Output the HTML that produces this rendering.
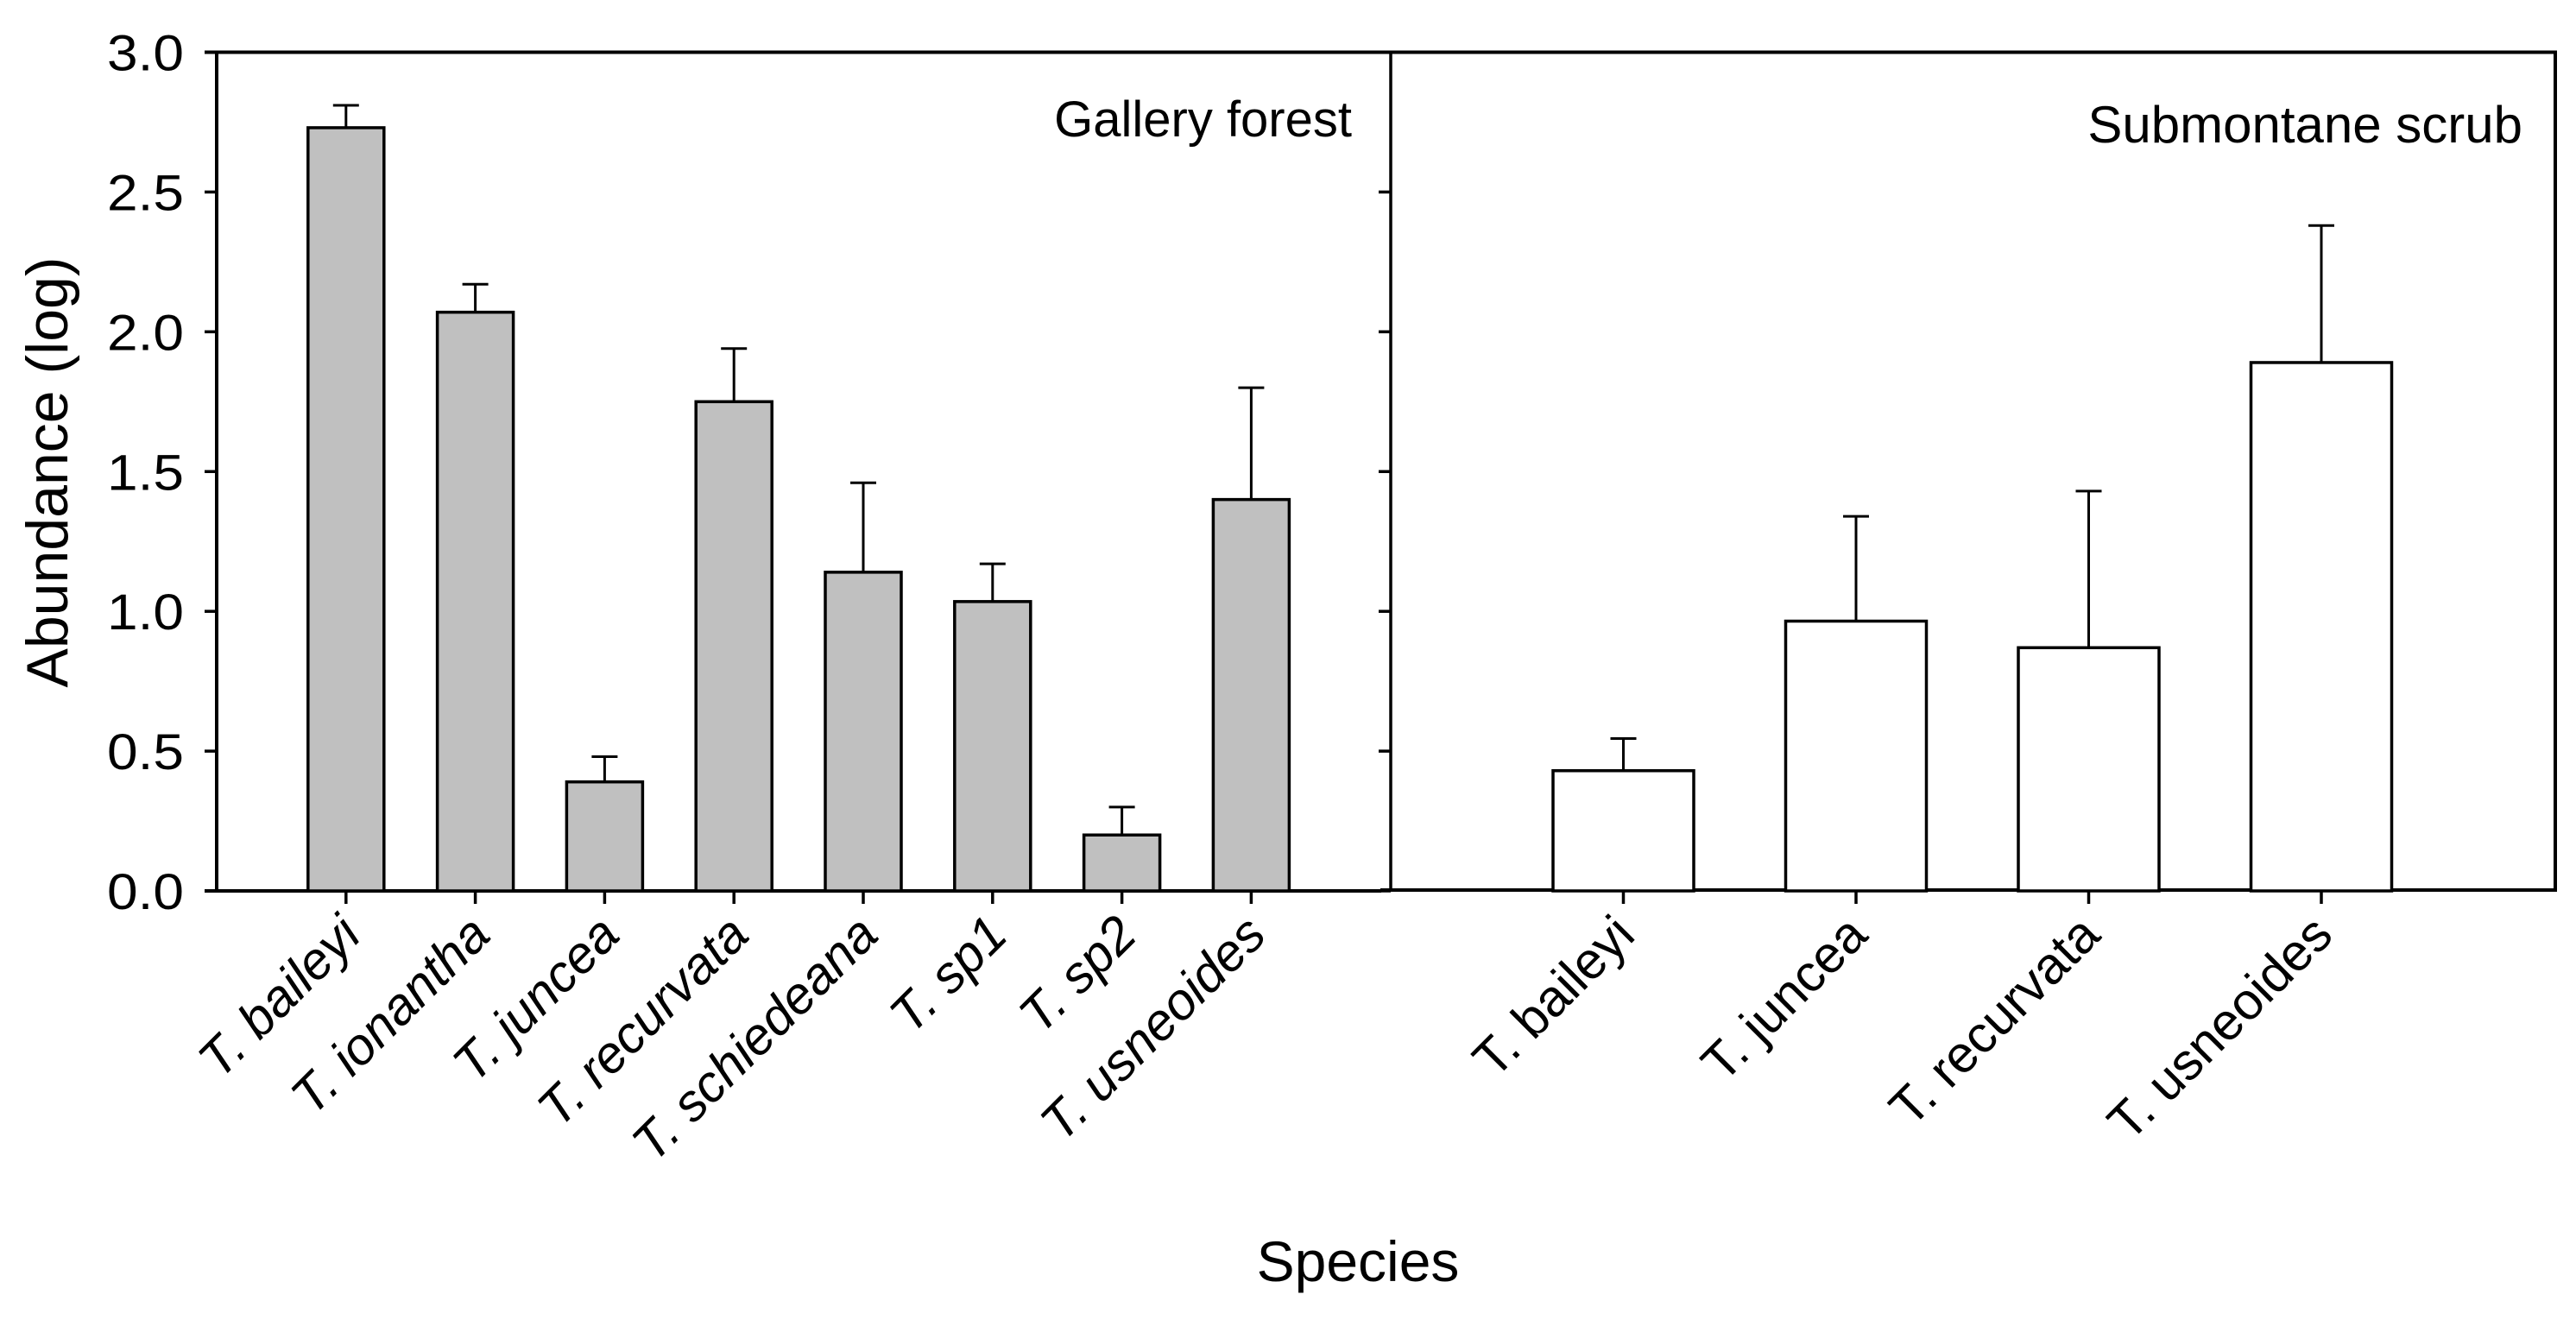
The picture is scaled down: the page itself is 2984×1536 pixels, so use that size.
<!DOCTYPE html>
<html><head><meta charset="utf-8"><style>
html,body{margin:0;padding:0;background:#fff;}
svg{display:block;font-family:"Liberation Sans",Arial,sans-serif;}
</style></head><body>
<svg id="chart" width="2984" height="1536" viewBox="0 0 2984 1536" xmlns="http://www.w3.org/2000/svg">
<g id="frame"></g><g id="marks"></g><g id="labels"></g>
</svg>
<script>
const leftCats = ["T. baileyi","T. ionantha","T. juncea","T. recurvata","T. schiedeana","T. sp1","T. sp2","T. usneoides"];
const leftVals = [2.73,2.07,0.39,1.75,1.14,1.035,0.20,1.40];
const leftErr = [0.08,0.10,0.09,0.19,0.32,0.135,0.10,0.40];
const rightCats = ["T. baileyi","T. juncea","T. recurvata","T. usneoides"];
const rightVals = [0.43,0.965,0.87,1.89];
const rightErr = [0.115,0.375,0.56,0.49];
const yTicks = [0,0.5,1,1.5,2,2.5,3];
const yTickLabels = ["0.0","0.5","1.0","1.5","2.0","2.5","3.0"];

const NS="http://www.w3.org/2000/svg";
const Y0=1032, YT=60.5, L=251, D=1611, R=2960;
function y(v){return Y0-(Y0-YT)*v/3;}
function xl(i){return L+149.8*(i+1);}
function xr(i){return D+269.5*(i+1);}
function mk(tag,attrs,parent){const e=document.createElementNS(NS,tag);for(const k in attrs)e.setAttribute(k,attrs[k]);document.getElementById(parent).appendChild(e);return e;}

let e;
e=mk('line',{x1:237,y1:YT,x2:R,y2:YT,stroke:'#000','stroke-width':4},'frame');


e=mk('line',{x1:L,y1:YT,x2:L,y2:Y0,stroke:'#000','stroke-width':4},'frame');


e=mk('line',{x1:237,y1:Y0,x2:1600,y2:Y0,stroke:'#000','stroke-width':4},'frame');


e=mk('line',{x1:D-12,y1:1031,x2:R+2,y2:1031,stroke:'#000','stroke-width':4},'frame');


e=mk('line',{x1:D,y1:YT,x2:D,y2:1031,stroke:'#000','stroke-width':3.5},'frame');


e=mk('line',{x1:R,y1:YT-2,x2:R,y2:1033,stroke:'#000','stroke-width':4},'frame');



yTicks.forEach((v,i)=>{
  let t=mk('line',{x1:L-14,y1:y(v),x2:L,y2:y(v),stroke:'#000','stroke-width':3.5},'frame');
  
  
  let t2=mk('line',{x1:D-14,y1:y(v),x2:D,y2:y(v),stroke:'#000','stroke-width':3.5},'frame');
  
  
  let lb=mk('text',{x:124,y:y(v)+21,'font-size':58},'labels');
  lb.textContent=yTickLabels[i];
  
  
  lb.setAttribute('textLength','89');
  lb.setAttribute('lengthAdjust','spacingAndGlyphs');
});

function drawBars(cats,vals,errs,xf,bw,fill,italic,panel,dx){
  cats.forEach((c,i)=>{
    const cx=xf(i);
    let er=mk('line',{x1:cx,y1:y(vals[i]),x2:cx,y2:y(vals[i]+errs[i]),stroke:'#000','stroke-width':3},'marks');
    
    
    let cap=mk('line',{x1:cx-15,y1:y(vals[i]+errs[i]),x2:cx+15,y2:y(vals[i]+errs[i]),stroke:'#000','stroke-width':3},'marks');
    
    
    let b=mk('rect',{x:cx-bw/2,y:y(vals[i]),width:bw,height:Y0-y(vals[i]),fill:fill,stroke:'#000','stroke-width':3.5},'marks');
    
    
    let t=mk('line',{x1:cx,y1:Y0,x2:cx,y2:Y0+15,stroke:'#000','stroke-width':3.5},'frame');
    
    
    const ax=cx+dx, ay=1086;
    let lb=mk('text',{x:ax,y:ay,'text-anchor':'end','font-size':60,transform:'rotate(-45 '+ax+' '+ay+')'},'labels');
    if(italic) lb.setAttribute('font-style','italic');
    lb.textContent=c;
    
    
  });
}
drawBars(leftCats,leftVals,leftErr,xl,88,'#c0c0c0',true,'gallery',20);
drawBars(rightCats,rightVals,rightErr,xr,163,'#ffffff',false,'submontane',16);

let tt=mk('text',{x:1566,y:158,'text-anchor':'end','font-size':58},'labels');
tt.textContent='Gallery forest';


tt=mk('text',{x:2922,y:165,'text-anchor':'end','font-size':60},'labels');
tt.textContent='Submontane scrub';


tt=mk('text',{x:1573,y:1484,'text-anchor':'middle','font-size':66},'labels');
tt.textContent='Species';


tt=mk('text',{x:78,y:547,'text-anchor':'middle','font-size':68,transform:'rotate(-90 78 547)'},'labels');
tt.textContent='Abundance (log)';


</script>
</body></html>
